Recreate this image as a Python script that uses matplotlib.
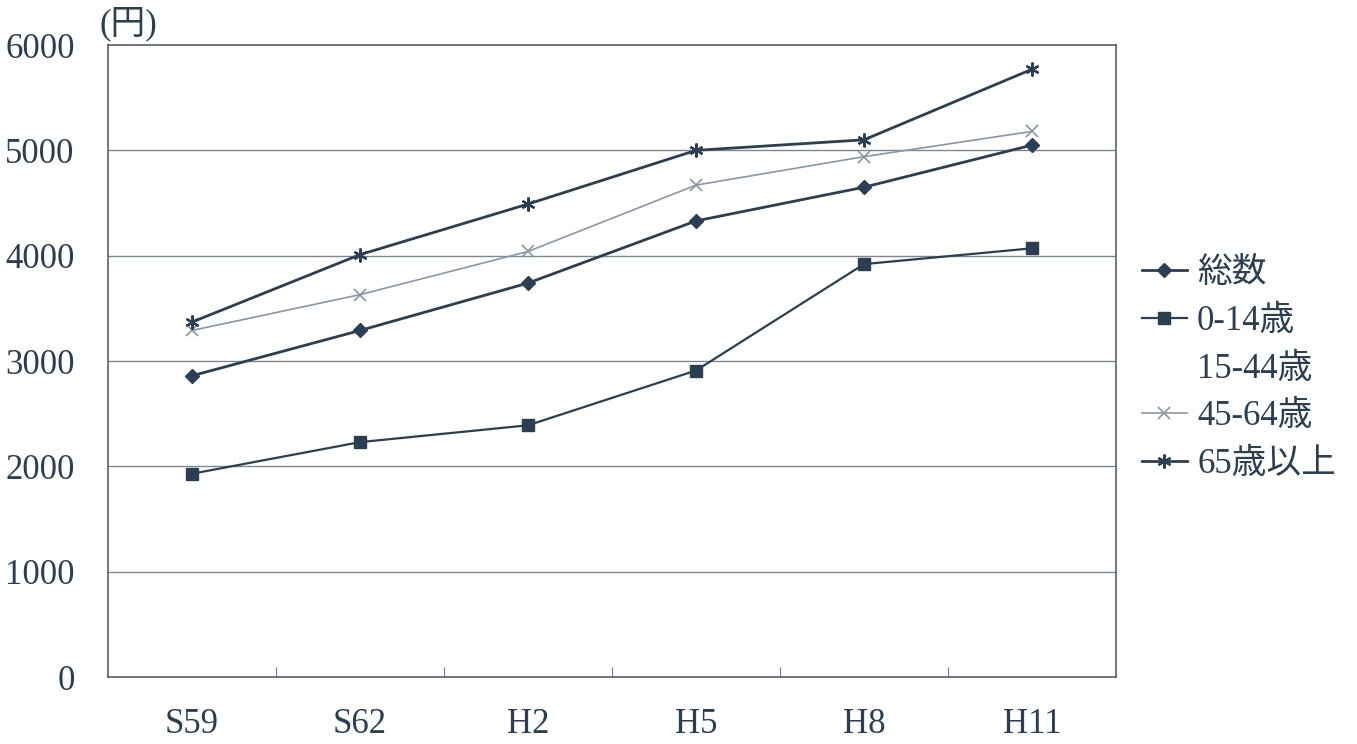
import matplotlib.pyplot as plt
import numpy as np

plt.rcParams['font.family'] = ['Liberation Serif', 'Noto Sans CJK JP']

years = ["S59", "S62", "H2", "H5", "H8", "H11"]
total = [2860, 3290, 3740, 4330, 4650, 5050]
age_0_14 = [1930, 2230, 2390, 2910, 3920, 4070]
age_15_44 = [np.nan] * 6
age_45_64 = [3290, 3630, 4040, 4670, 4940, 5180]
age_65 = [3370, 4010, 4490, 5000, 5100, 5770]

ink = "#2c3e52"
light = "#8a97a6"

fig = plt.figure(figsize=(13.57, 7.44), dpi=100)
ax = fig.add_axes([0.0796, 0.090, 0.7428, 0.8495])
x = np.arange(len(years))

ax.plot(x, total, color=ink, lw=2, marker="D", ms=7, label="総数")
ax.plot(x, age_0_14, color=ink, lw=1.6, marker="s", ms=8, label="0-14歳")
ax.plot(x, age_15_44, color="none", lw=0, label="15-44歳")
ax.plot(x, age_45_64, color=light, lw=1.2, marker="x", ms=9, mew=1.2, label="45-64歳")
ax.plot(x, age_65, color=ink, lw=2, marker=(6, 2, 0), ms=10, mew=1.6, label="65歳以上")

ax.set_xlim(-0.5, len(years) - 0.5)
ax.set_ylim(0, 6000)
ax.set_yticks(np.arange(0, 7000, 1000))
ax.set_xticks(x)
ax.set_xticklabels(years)
ax.set_xticks(np.arange(0.5, len(years) - 0.5, 1), minor=True)
ax.tick_params(axis="x", which="major", length=0, pad=22, labelsize=25, labelcolor=ink)
ax.tick_params(axis="x", which="minor", direction="in", length=7, color="#555f6a")
ax.tick_params(axis="y", length=0, pad=24, labelsize=25, labelcolor=ink)
for y in range(1000, 6000, 1000):
    ax.axhline(y, color="#7d8790", lw=1, zorder=0)
for s in ax.spines.values():
    s.set_color("#555f6a")
    s.set_linewidth(1.2)

fig.text(0.073, 0.968, "(円)", fontsize=25, color=ink, va="center", ha="left")

leg = ax.legend(loc="center left", bbox_to_anchor=(0.831, 0.504), bbox_transform=fig.transFigure,
                frameon=False, fontsize=25, handlelength=1.3, handletextpad=0.3,
                labelspacing=0.42, borderaxespad=0)
for t in leg.get_texts():
    t.set_color(ink)

fig.savefig("out.png", dpi=100)
